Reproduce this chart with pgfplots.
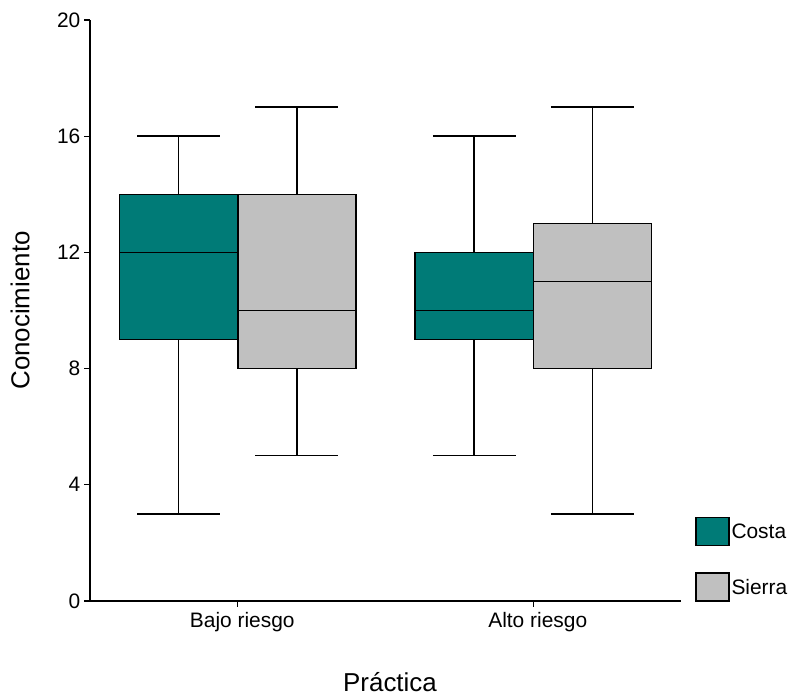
\documentclass[border=0pt]{standalone}
\usepackage{fontspec}
\setmainfont{Liberation Sans}
\usepackage{pgfplots}
\pgfplotsset{compat=1.18}
\definecolor{costa}{RGB}{0,123,119}
\definecolor{sierra}{RGB}{192,192,192}
\begin{document}
\begin{tikzpicture}
\path[use as bounding box] (-90bp,-98bp) rectangle (701bp,601bp);
\begin{axis}[
  scale only axis, width=591bp, height=581bp,
  xmin=0.5, xmax=2.5, ymin=0, ymax=20,
  clip=false,
  axis x line*=bottom, axis y line*=left,
  axis line style={-, line width=1.4bp, black},
  xtick={1,2}, xticklabels={Bajo riesgo, Alto riesgo},
  ytick={0,4,8,12,16,20},
  tick align=outside, major tick length=5.5bp,
  tick style={black, line width=1.3bp},
  /pgf/number format/assume math mode=true,
  tick label style={font=\fontsize{21}{25}\selectfont},
  xticklabel style={anchor=north, inner sep=0pt, yshift=-6bp, xshift=4.5bp},
  yticklabel style={anchor=east, inner sep=0pt, xshift=-4bp},
  label style={font=\fontsize{26}{30}\selectfont},
  xlabel={Práctica},
  xlabel style={at={(axis description cs:0.5076,-0.156)}, anchor=base},
  ylabel={Conocimiento},
  ylabel style={at={(axis description cs:-0.1184,0.5)}, anchor=center},
  legend style={at={(axis description cs:1.0237,-0.0015)}, anchor=south west,
    draw=none, fill=none, inner sep=0pt, outer sep=0pt, row sep=26bp,
    font=\fontsize{21}{25}\selectfont},
  legend cell align=left,
  every axis plot/.append style={forget plot, line width=1.5bp, mark=none, solid},
]
\addlegendimage{legend image code/.code={\draw[fill=costa, draw=black, line width=1.5bp] (0bp,-13.6bp) rectangle (33bp,14.4bp);}}
\addlegendentry{Costa}
\addlegendimage{legend image code/.code={\draw[fill=sierra, draw=black, line width=1.5bp] (0bp,-13.6bp) rectangle (33bp,14.4bp);}}
\addlegendentry{Sierra}

% ---- Bajo riesgo, Costa: whiskers 3-16, box 9-14, median 12
\addplot[black, unbounded coords=jump] coordinates {(0.8,9) (0.8,3) (nan,nan) (0.66,3) (0.94,3) (nan,nan) (0.8,14) (0.8,16) (nan,nan) (0.66,16) (0.94,16)};
\addplot[fill=costa, draw=black] coordinates {(0.6,9) (1.0,9) (1.0,14) (0.6,14)} -- cycle;
\addplot[black] coordinates {(0.6,12) (1.0,12)};

% ---- Bajo riesgo, Sierra: whiskers 5-17, box 8-14, median 10
\addplot[black, unbounded coords=jump] coordinates {(1.2,8) (1.2,5) (nan,nan) (1.06,5) (1.34,5) (nan,nan) (1.2,14) (1.2,17) (nan,nan) (1.06,17) (1.34,17)};
\addplot[fill=sierra, draw=black] coordinates {(1.0,8) (1.4,8) (1.4,14) (1.0,14)} -- cycle;
\addplot[black] coordinates {(1.0,10) (1.4,10)};

% ---- Alto riesgo, Costa: whiskers 5-16, box 9-12, median 10
\addplot[black, unbounded coords=jump] coordinates {(1.8,9) (1.8,5) (nan,nan) (1.66,5) (1.94,5) (nan,nan) (1.8,12) (1.8,16) (nan,nan) (1.66,16) (1.94,16)};
\addplot[fill=costa, draw=black] coordinates {(1.6,9) (2.0,9) (2.0,12) (1.6,12)} -- cycle;
\addplot[black] coordinates {(1.6,10) (2.0,10)};

% ---- Alto riesgo, Sierra: whiskers 3-17, box 8-13, median 11
\addplot[black, unbounded coords=jump] coordinates {(2.2,8) (2.2,3) (nan,nan) (2.06,3) (2.34,3) (nan,nan) (2.2,13) (2.2,17) (nan,nan) (2.06,17) (2.34,17)};
\addplot[fill=sierra, draw=black] coordinates {(2.0,8) (2.4,8) (2.4,13) (2.0,13)} -- cycle;
\addplot[black] coordinates {(2.0,11) (2.4,11)};
\end{axis}
\end{tikzpicture}
\end{document}
